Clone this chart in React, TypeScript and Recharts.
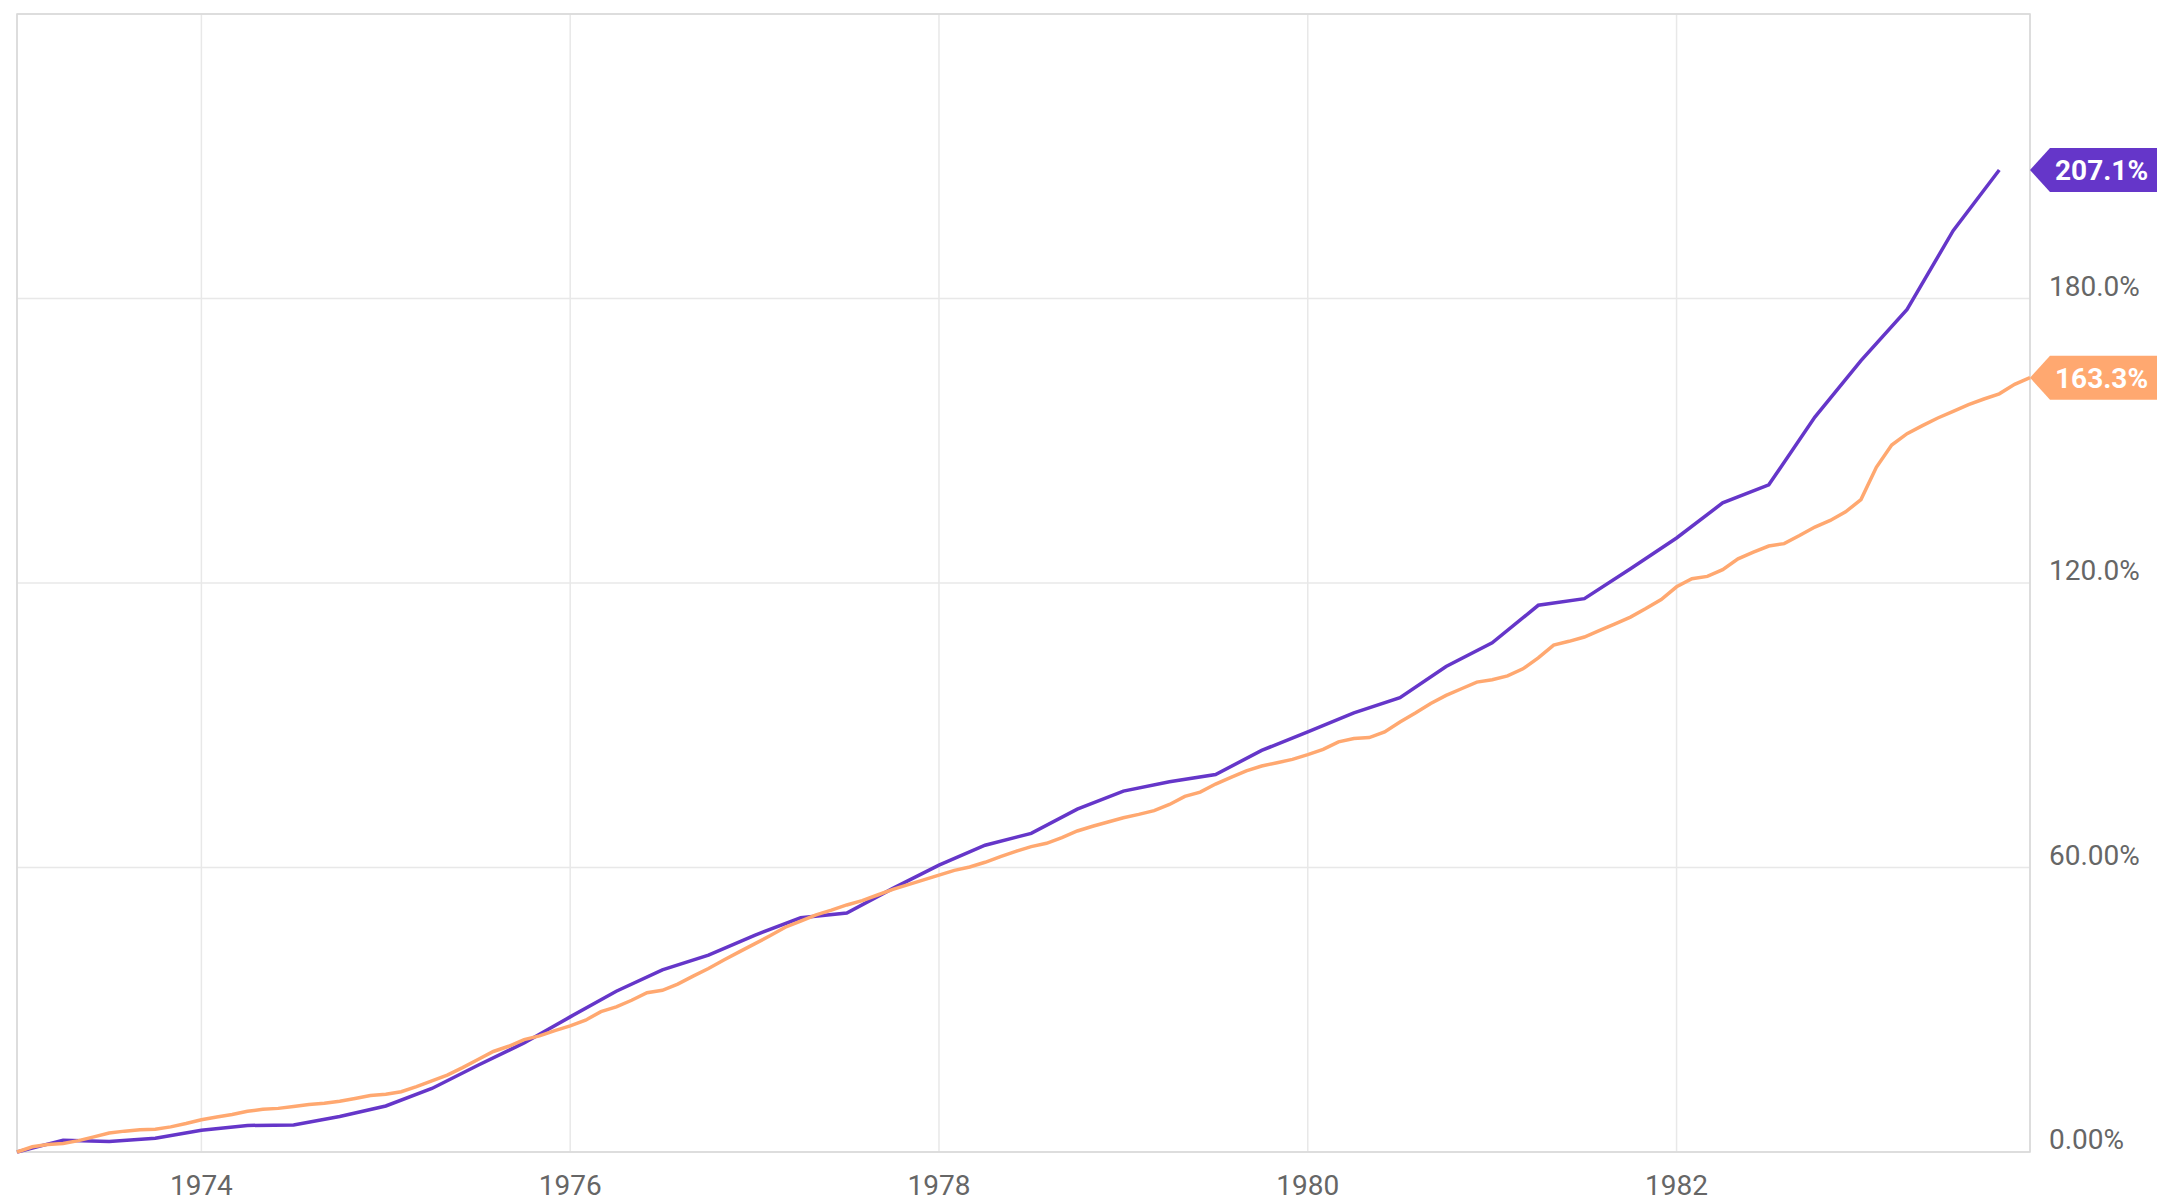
import { LineChart, Line, XAxis, YAxis, CartesianGrid, ReferenceArea, ReferenceLine } from 'recharts';

// Monthly series (orange), Jan 1973 – Dec 1983, cumulative % change
const monthlyGrowth = [
  0, 1.1, 1.6, 1.8, 2.4, 3.2, 4.0, 4.4, 4.7, 4.8, 5.3, 6.0,
  6.8, 7.4, 7.9, 8.6, 9.0, 9.2, 9.6, 10.0, 10.3, 10.7, 11.3, 11.9,
  12.2, 12.7, 13.8, 15.0, 16.2, 17.8, 19.5, 21.2, 22.3, 23.7, 24.5, 25.6,
  26.6, 27.8, 29.6, 30.6, 32.0, 33.6, 34.1, 35.4, 37.1, 38.7, 40.5, 42.2,
  43.9, 45.6, 47.4, 48.7, 50.0, 51.0, 52.1, 53.0, 54.2, 55.4, 56.4, 57.4,
  58.4, 59.4, 60.1, 61.1, 62.3, 63.4, 64.4, 65.1, 66.3, 67.7, 68.7, 69.6,
  70.5, 71.2, 72.0, 73.3, 75.0, 75.9, 77.6, 79.0, 80.4, 81.4, 82.1, 82.8,
  83.8, 84.9, 86.5, 87.2, 87.4, 88.6, 90.7, 92.6, 94.6, 96.3, 97.7, 99.1,
  99.6, 100.4, 101.9, 104.2, 106.9, 107.7, 108.6, 110.0, 111.4, 112.8, 114.6, 116.5,
  119.2, 120.9, 121.4, 122.8, 125.1, 126.5, 127.8, 128.3, 130.0, 131.8, 133.2, 135.0,
  137.6, 144.4, 149.1, 151.5, 153.2, 154.8, 156.2, 157.6, 158.8, 159.9, 161.9, 163.3,
];

// Quarterly series (purple), Q1 1973 – Q4 1983
const quarterlyGrowth = [
  0, 2.5, 2.2, 2.9, 4.6, 5.6, 5.7, 7.5, 9.7, 13.4, 18.3, 23.0,
  28.5, 33.9, 38.4, 41.5, 45.7, 49.4, 50.4, 55.6, 60.5, 64.7, 67.2, 72.3,
  76.1, 78.1, 79.6, 84.7, 88.6, 92.6, 95.8, 102.4, 107.4, 115.3, 116.7, 123.0,
  129.5, 136.9, 140.7, 155.0, 166.9, 177.7, 194.3, 207.1,
];

const yearTicks = [1974, 1976, 1978, 1980, 1982];
const valueTicks = [0, 60, 120, 180];
const START_YEAR = 1973;

const data = monthlyGrowth.map((v, m) => ({
  m,
  monthly: v,
  quarterly: m % 3 === 0 && m / 3 < quarterlyGrowth.length ? quarterlyGrowth[m / 3] : null,
}));

const PURPLE = '#6536C9';
const ORANGE = '#FFA870';
const FONT = 'Roboto, sans-serif';

function YTick({ x, y, payload }: any) {
  const v = payload.value;
  const label = (v < 100 ? v.toFixed(2) : v.toFixed(1)) + '%';
  return (
    <text x={x + 17} y={y - 3} fill="#666" fontSize={28} fontFamily={FONT} textAnchor="start">
      {label}
    </text>
  );
}

function XTick({ x, y, payload }: any) {
  return (
    <text x={x} y={y + 41} fill="#666" fontSize={28} fontFamily={FONT} textAnchor="middle">
      {START_YEAR + payload.value / 12}
    </text>
  );
}

function Badge({ viewBox, value, color }: any) {
  const left = viewBox.x + viewBox.width;
  const cy = viewBox.y;
  const h = 22;
  const d = `M${left},${cy} L${left + 20},${cy - h} L2157,${cy - h} L2157,${cy + h} L${left + 20},${cy + h} Z`;
  return (
    <g>
      <path d={d} fill={color} />
      <text x={left + 25} y={cy + 10} fill="#fff" fontSize={28} fontWeight="bold" fontFamily={FONT}>
        {value.toFixed(1) + '%'}
      </text>
    </g>
  );
}

export default function App() {
  const lastQ = quarterlyGrowth[quarterlyGrowth.length - 1];
  const lastM = monthlyGrowth[monthlyGrowth.length - 1];
  return (
    <div style={{ width: 2157, height: 1201, background: '#fff' }}>
      <style>{'body{margin:0}'}</style>
      <LineChart width={2157} height={1201} data={data} margin={{ top: 14, left: 17, right: 0, bottom: 0 }}>
        <CartesianGrid stroke="#e8e8e8" strokeWidth={1.5} />
        <XAxis
          dataKey="m"
          type="number"
          domain={[0, monthlyGrowth.length - 1]}
          ticks={yearTicks.map((y) => (y - START_YEAR) * 12)}
          height={49}
          axisLine={false}
          tickLine={false}
          tickSize={0}
          tick={<XTick />}
        />
        <YAxis
          orientation="right"
          domain={[0, 240]}
          ticks={valueTicks}
          width={127}
          axisLine={false}
          tickLine={false}
          tickSize={0}
          tick={<YTick />}
        />
        <ReferenceArea x1={0} x2={monthlyGrowth.length - 1} y1={0} y2={240} fill="none" stroke="#d8d8d8" strokeWidth={1.5} />
        <Line
          type="linear"
          dataKey="quarterly"
          stroke={PURPLE}
          strokeWidth={3.5}
          dot={false}
          connectNulls
          isAnimationActive={false}
        />
        <Line
          type="linear"
          dataKey="monthly"
          stroke={ORANGE}
          strokeWidth={3.5}
          dot={false}
          isAnimationActive={false}
        />
        <ReferenceLine y={lastQ} stroke="none" label={(p: any) => <Badge {...p} value={lastQ} color={PURPLE} />} />
        <ReferenceLine y={lastM} stroke="none" label={(p: any) => <Badge {...p} value={lastM} color={ORANGE} />} />
      </LineChart>
    </div>
  );
}
